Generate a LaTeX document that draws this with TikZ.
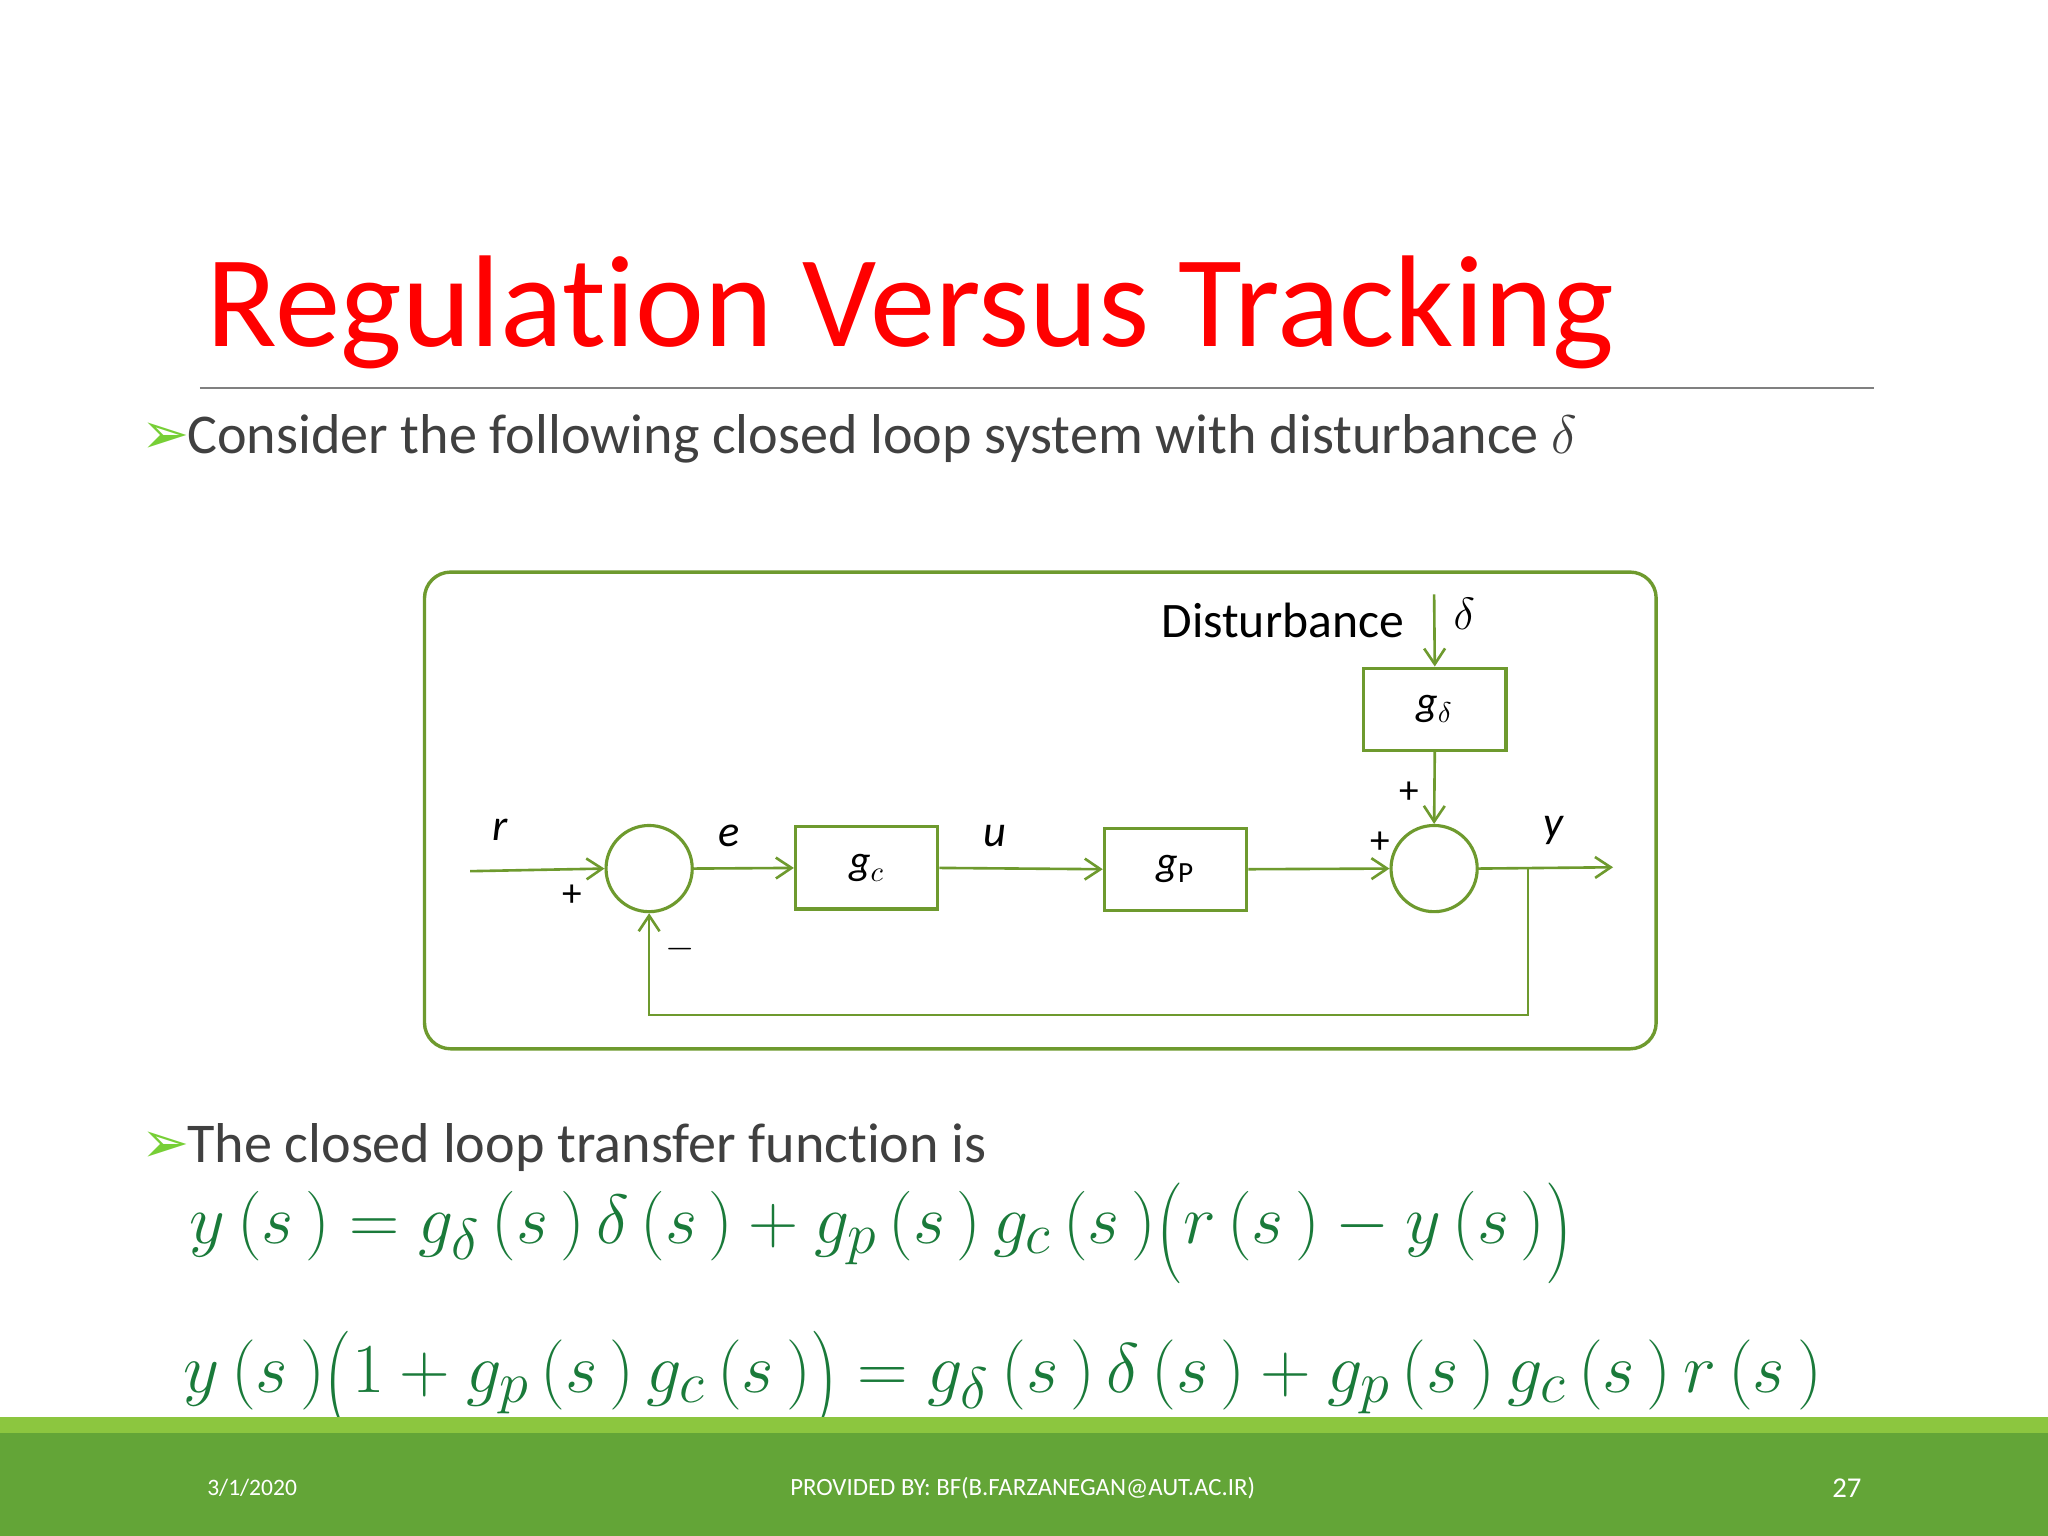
\documentclass[tikz,border=0pt]{standalone}
\usepackage{graphicx}
\usepackage{fontspec}
\setmainfont{Carlito}[Ligatures=NoCommon]
\newfontfamily\symf{DejaVu Sans}
\usetikzlibrary{arrows.meta}
\definecolor{lg}{HTML}{6E9A2E}
\definecolor{tg}{HTML}{404040}
\definecolor{eqg}{HTML}{1A7A3A}
\definecolor{fg}{HTML}{63A537}
\definecolor{fl}{HTML}{8CC63F}
\newcommand{\sv}[2]{\textit{#1}$_{#2}$}
\newcommand{\bigL}{\mathopen{\raisebox{-0.22em}{\scalebox{1.1}[1.45]{$($}}}}
\newcommand{\bigR}{\mathclose{\raisebox{-0.22em}{\scalebox{1.1}[1.45]{$)$}}}}
\tikzset{
 blk/.style={draw=lg,line width=1.2pt,minimum width=54.5pt,minimum height=31.5pt,inner sep=0pt,font=\fontsize{16}{18}\selectfont},
 sumc/.style={draw=lg,line width=1.2pt,circle,minimum size=33pt,inner sep=0pt},
 sig/.style={draw=lg,line width=1pt,-{Straight Barb[length=6pt,width=8pt]}},
 lab/.style={font=\fontsize{17}{19}\selectfont\itshape},
 pm/.style={font=\fontsize{15}{17}\selectfont},
 bul/.style={font=\fontsize{21.5}{24}\selectfont,text=tg,anchor=base west,inner sep=0pt},
 arr/.style={anchor=base west,inner sep=0pt,text=fl!85!green,font=\symf\fontsize{22}{24}\selectfont},
 eqs/.style={anchor=base west,inner sep=0pt,text=eqg,font=\fontsize{24.88}{30}\selectfont},
}
\begin{document}
\begin{tikzpicture}[x=0.5pt,y=-0.5pt]
\useasboundingbox (0,0) rectangle (1568,1176);
\fill[white] (0,0) rectangle (1568,1176);
\node[anchor=base west,inner sep=0pt,text=red,font=\fontsize{50}{55}\selectfont] (title) at (158,265) {Regulation Versus Tracking};
\draw[gray,line width=0.6pt] (153,297) -- (1435,297);
\node[arr] (b1) at (108,347) {➢};
\node[bul] (t1) at (143,347) {Consider the following closed loop system with disturbance $\delta$};
\draw[lg,line width=1.3pt,rounded corners=10pt] (325,438) rectangle (1268,803);
\node[sumc] (s1) at (497,665) {};
\node[sumc] (s2) at (1098,665) {};
\node[blk] (gc) at (663.5,664.5) {\sv{g}{c}};
\node[blk] (gp) at (900,665.5) {\textit{g}$_{\mathrm{P}}$};
\node[blk] (gd) at (1098.5,543) {\textit{g}$_\delta$};
\coordinate (rin) at (360,667);
\coordinate (yout) at (1235,664);
\coordinate (tap) at (1170,664);
\coordinate (din) at (1098,455);
\draw[sig] (rin) -- (s1.west);
\draw[sig] (s1.east) -- (gc.west);
\draw[sig] (gc.east) -- (gp.west);
\draw[sig] (gp.east) -- (s2.west);
\draw[sig] (s2.east) -- (yout);
\draw[sig] (din) -- (gd.north);
\draw[sig] (gd.south) -- (s2.north);
\draw[sig] (tap) -- (1170,777) -- (497,777) -- (s1.south);
\node[lab] (lr) at (383,635) {r};
\node[lab] (le) at (558,640) {e};
\node[lab] (lu) at (762,640) {u};
\node[lab] (ly) at (1189,636) {y};
\node[pm] (p1) at (438,686) {+};
\node[pm] (m1) at (521,727) {$-$};
\node[pm] (p2) at (1079,607) {+};
\node[pm] (p3) at (1057,645) {+};
\node[font=\fontsize{19}{21}\selectfont] (ld) at (1121,470) {$\delta$};
\node[anchor=east,font=\fontsize{19}{21}\selectfont] (dist) at (1082,475) {Disturbance};
\node[arr] (b2) at (108,890) {➢};
\node[bul] (t2) at (143,890) {The closed loop transfer function is};
\node[eqs] (eq1) at (145,952)
 {\scalebox{1.07}{$y\,(s\,)=g_\delta\,(s\,)\,\delta\,(s\,)+g_p\,(s\,)\,g_c\,(s\,)\bigL r\,(s\,)-y\,(s\,)\bigR$}};
\node[eqs] (eq2) at (140,1066)
 {\scalebox{1.08}{$y\,(s\,)\bigL 1+g_p\,(s\,)\,g_c\,(s\,)\bigR=g_\delta\,(s\,)\,\delta\,(s\,)+g_p\,(s\,)\,g_c\,(s\,)\,r\,(s\,)$}};
\fill[fg] (0,1085) rectangle (1568,1176);
\fill[fl] (0,1085) rectangle (1568,1097);
\node[text=white,font=\fontsize{9}{11}\selectfont] (date) at (193,1139) {3/1/2020};
\node[text=white,font=\fontsize{9.5}{11}\selectfont] (prov) at (783,1139) {PROVIDED BY: BF(B.FARZANEGAN@AUT.AC.IR)};
\node[text=white,font=\fontsize{11}{13}\selectfont] (pg) at (1414,1139) {27};
\end{tikzpicture}
\end{document}
